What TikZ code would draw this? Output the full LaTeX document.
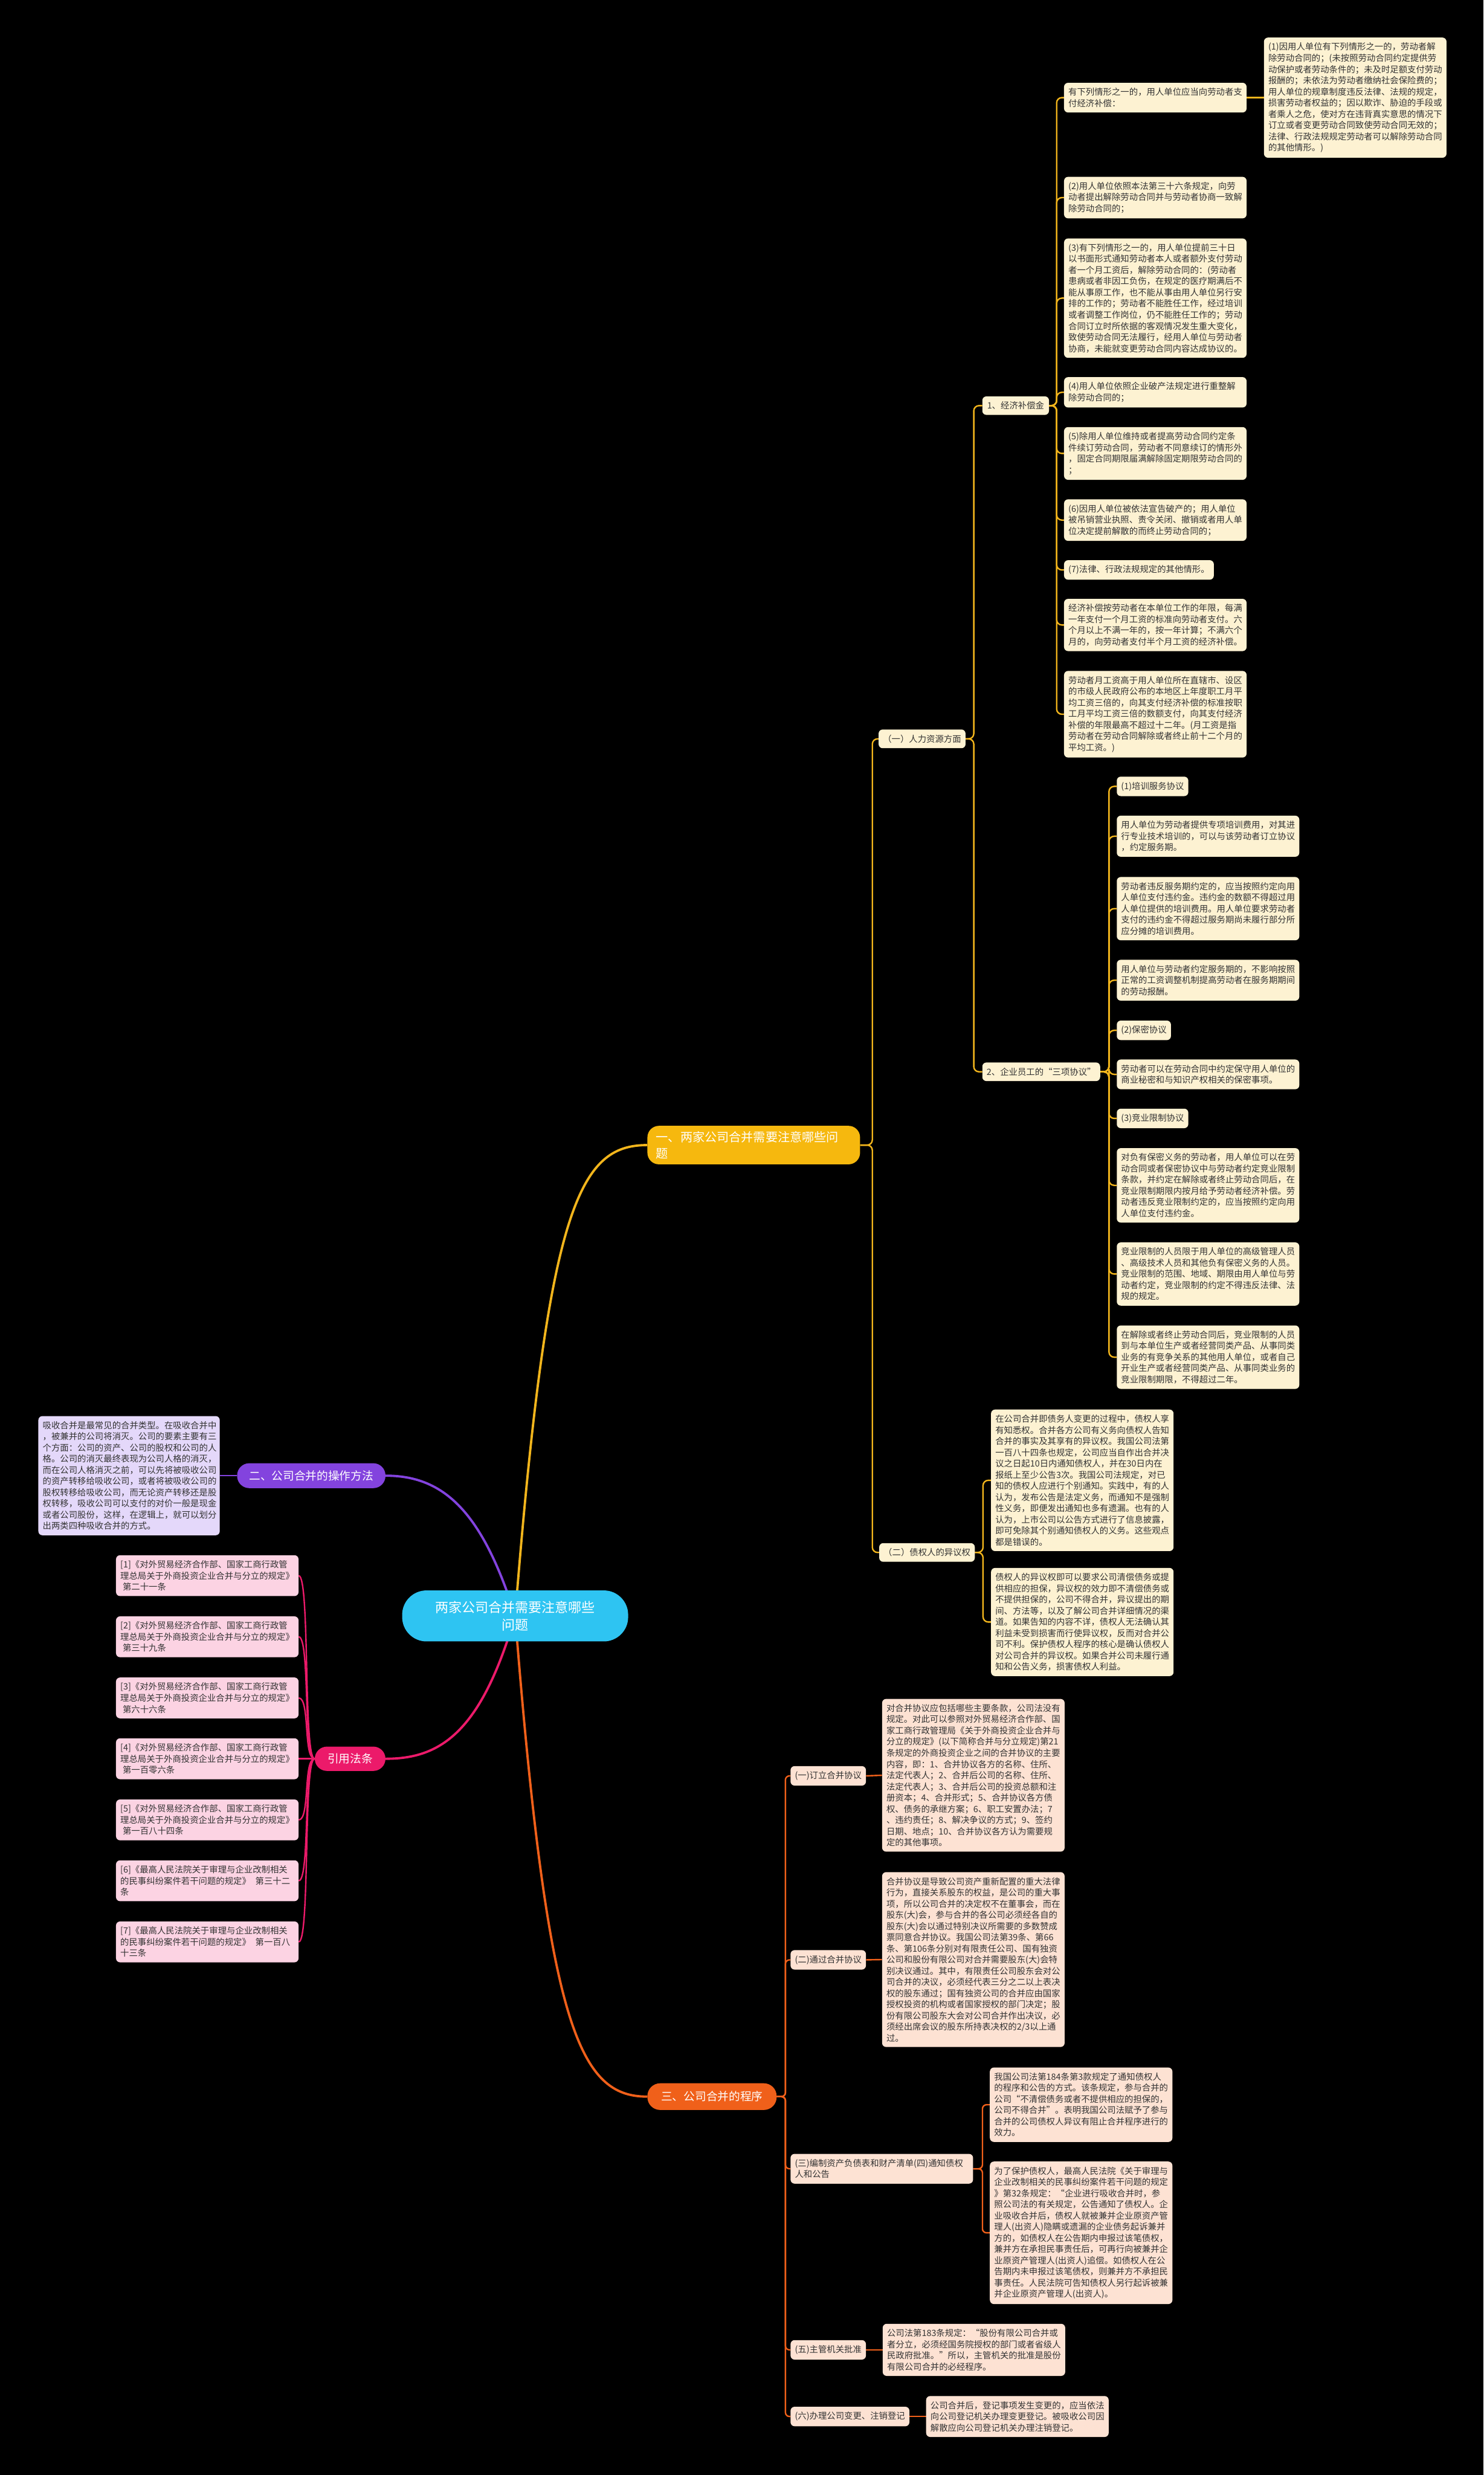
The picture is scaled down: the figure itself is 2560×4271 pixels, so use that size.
\documentclass[tikz,border=0pt]{standalone}
\usepackage{fontspec}
\newfontfamily\cjk{Noto Sans CJK SC}
\pgfdeclarelayer{bg}
\pgfdeclarelayer{lines}
\pgfsetlayers{bg,lines,main}
\definecolor{cream}{HTML}{FDF2D2}
\definecolor{ylw}{HTML}{F2B51C}
\definecolor{ylwnode}{HTML}{F6B80E}
\definecolor{peach}{HTML}{FDE2D3}
\definecolor{org}{HTML}{F0601A}
\definecolor{lav}{HTML}{E4D8FA}
\definecolor{pur}{HTML}{8343DE}
\definecolor{pinkf}{HTML}{FCD3E3}
\definecolor{mag}{HTML}{EC1A6A}
\definecolor{cyn}{HTML}{2EC4F2}
\definecolor{txt}{HTML}{333333}
\tikzset{
  base/.style={font=\cjk\fontsize{15pt}{19.3pt}\selectfont, text=txt, rounded corners=7pt,
    inner xsep=7.5pt, inner ysep=9pt, align=left, anchor=west},
  ybox/.style={base, fill=cream, text width=300pt},
  ylab/.style={base, fill=cream, align=center},
  obox/.style={base, fill=peach, text width=300pt},
  olab/.style={base, fill=peach, align=center},
  pbox/.style={base, fill=lav, text width=298pt},
  rbox/.style={base, fill=pinkf, text width=300pt},
  topic/.style={font=\cjk\fontsize{19.5pt}{26pt}\selectfont, text=white, anchor=west,
    inner xsep=12pt, inner ysep=6pt, align=center},
  ylink/.style={draw=ylw, line width=2.5pt, rounded corners=9pt},
  olink/.style={draw=org, line width=2.5pt, rounded corners=7pt},
  mlink/.style={draw=mag, line width=2.5pt},
  plink/.style={draw=pur, line width=2.5pt},
  main/.style={line width=4pt}
}
\begin{document}
\begin{tikzpicture}[x=1pt,y=-1pt]
\useasboundingbox (0,0) rectangle (2560,4271);
\begin{pgfonlayer}{bg}
\fill[black] (0,0) rectangle (2560,4271);
\end{pgfonlayer}

% ---------- centre ----------
\node[font=\cjk\fontsize{23pt}{30pt}\selectfont, text=white, fill=cyn, rounded corners=42pt,
  minimum width=390pt, minimum height=88pt, align=center] (C) at (889,2788.5)
  {两家公司合并需要注意哪些\\问题};

% ---------- level 1 ----------
\node[topic, fill=ylwnode, font=\cjk\fontsize{21pt}{28pt}\selectfont, rounded corners=20pt,
  text width=337pt, inner xsep=15pt, inner ysep=9.5pt, align=left] (N1) at (1117,1976)
  {一、两家公司合并需要注意哪些问\\题};
\node[topic, fill=pur, rounded corners=21pt, minimum width=256pt, minimum height=43pt] (N2) at (409,2546.5)
  {二、公司合并的操作方法};
\node[topic, fill=org, rounded corners=22pt, minimum width=223pt, minimum height=46pt] (N3) at (1117,3618)
  {三、公司合并的程序};
\node[topic, fill=mag, rounded corners=21pt, minimum width=122pt, minimum height=42pt] (N4) at (543,3035)
  {引用法条};

% ---------- yellow branch ----------
\node[ylab, minimum width=150pt] (Lhr) at (1516,1275) {（一）人力资源方面};
\node[ylab, minimum width=115pt] (Ljj) at (1695,700) {1、经济补偿金};
\node[ylab, minimum width=203pt] (Lsx) at (1695,1849.5) {2、企业员工的“三项协议”};
\node[ylab, minimum width=164pt] (Lzq) at (1517,2679) {（二）债权人的异议权};

\node[ybox] (ya) at (1836,168.5) {有下列情形之一的，用人单位应当向劳动者支\\付经济补偿：};
\node[ybox] (y1) at (2181,168.5) {(1)因用人单位有下列情形之一的，劳动者解\\除劳动合同的；(未按照劳动合同约定提供劳\\动保护或者劳动条件的；未及时足额支付劳动\\报酬的；未依法为劳动者缴纳社会保险费的；\\用人单位的规章制度违反法律、法规的规定，\\损害劳动者权益的；因以欺诈、胁迫的手段或\\者乘人之危，使对方在违背真实意思的情况下\\订立或者变更劳动合同致使劳动合同无效的；\\法律、行政法规规定劳动者可以解除劳动合同\\的其他情形。)};
\node[ybox] (y2) at (1836,341) {(2)用人单位依照本法第三十六条规定，向劳\\动者提出解除劳动合同并与劳动者协商一致解\\除劳动合同的；};
\node[ybox] (y3) at (1836,514.5) {(3)有下列情形之一的，用人单位提前三十日\\以书面形式通知劳动者本人或者额外支付劳动\\者一个月工资后，解除劳动合同的：(劳动者\\患病或者非因工负伤，在规定的医疗期满后不\\能从事原工作，也不能从事由用人单位另行安\\排的工作的；劳动者不能胜任工作，经过培训\\或者调整工作岗位，仍不能胜任工作的；劳动\\合同订立时所依据的客观情况发生重大变化，\\致使劳动合同无法履行，经用人单位与劳动者\\协商，未能就变更劳动合同内容达成协议的。};
\node[ybox] (y4) at (1836,677) {(4)用人单位依照企业破产法规定进行重整解\\除劳动合同的；};
\node[ybox] (y5) at (1836,782.5) {(5)除用人单位维持或者提高劳动合同约定条\\件续订劳动合同，劳动者不同意续订的情形外\\，固定合同期限届满解除固定期限劳动合同的\\；};
\node[ybox] (y6) at (1836,897.5) {(6)因用人单位被依法宣告破产的；用人单位\\被吊销营业执照、责令关闭、撤销或者用人单\\位决定提前解散的而终止劳动合同的；};
\node[base, fill=cream] (y7) at (1836,983.5) {(7)法律、行政法规规定的其他情形。};
\node[ybox] (y8) at (1836,1078.5) {经济补偿按劳动者在本单位工作的年限，每满\\一年支付一个月工资的标准向劳动者支付。六\\个月以上不满一年的，按一年计算；不满六个\\月的，向劳动者支付半个月工资的经济补偿。};
\node[ybox] (y9) at (1836,1232.5) {劳动者月工资高于用人单位所在直辖市、设区\\的市级人民政府公布的本地区上年度职工月平\\均工资三倍的，向其支付经济补偿的标准按职\\工月平均工资三倍的数额支付，向其支付经济\\补偿的年限最高不超过十二年。(月工资是指\\劳动者在劳动合同解除或者终止前十二个月的\\平均工资。)};

\node[base, fill=cream] (t0) at (1927,1357) {(1)培训服务协议};
\node[ybox] (t1) at (1927,1443) {用人单位为劳动者提供专项培训费用，对其进\\行专业技术培训的，可以与该劳动者订立协议\\，约定服务期。};
\node[ybox] (t2) at (1927,1568) {劳动者违反服务期约定的，应当按照约定向用\\人单位支付违约金。违约金的数额不得超过用\\人单位提供的培训费用。用人单位要求劳动者\\支付的违约金不得超过服务期尚未履行部分所\\应分摊的培训费用。};
\node[ybox] (t3) at (1927,1691.5) {用人单位与劳动者约定服务期的，不影响按照\\正常的工资调整机制提高劳动者在服务期期间\\的劳动报酬。};
\node[base, fill=cream] (t4) at (1927,1778) {(2)保密协议};
\node[ybox] (t5) at (1927,1854) {劳动者可以在劳动合同中约定保守用人单位的\\商业秘密和与知识产权相关的保密事项。};
\node[base, fill=cream] (t6) at (1927,1930) {(3)竞业限制协议};
\node[ybox] (t7) at (1927,2045.5) {对负有保密义务的劳动者，用人单位可以在劳\\动合同或者保密协议中与劳动者约定竞业限制\\条款，并约定在解除或者终止劳动合同后，在\\竞业限制期限内按月给予劳动者经济补偿。劳\\动者违反竞业限制约定的，应当按照约定向用\\人单位支付违约金。};
\node[ybox] (t8) at (1927,2198.5) {竞业限制的人员限于用人单位的高级管理人员\\、高级技术人员和其他负有保密义务的人员。\\竞业限制的范围、地域、期限由用人单位与劳\\动者约定，竞业限制的约定不得违反法律、法\\规的规定。};
\node[ybox] (t9) at (1927,2342) {在解除或者终止劳动合同后，竞业限制的人员\\到与本单位生产或者经营同类产品、从事同类\\业务的有竞争关系的其他用人单位，或者自己\\开业生产或者经营同类产品、从事同类业务的\\竞业限制期限，不得超过二年。};

\node[ybox] (c1) at (1710,2554.5) {在公司合并即债务人变更的过程中，债权人享\\有知悉权。合并各方公司有义务向债权人告知\\合并的事实及其享有的异议权。我国公司法第\\一百八十四条也规定，公司应当自作出合并决\\议之日起10日内通知债权人，并在30日内在\\报纸上至少公告3次。我国公司法规定，对已\\知的债权人应进行个别通知。实践中，有的人\\认为，发布公告是法定义务，而通知不是强制\\性义务，即便发出通知也多有遗漏。也有的人\\认为，上市公司以公告方式进行了信息披露，\\即可免除其个别通知债权人的义务。这些观点\\都是错误的。};
\node[ybox] (c2) at (1710,2799) {债权人的异议权即可以要求公司清偿债务或提\\供相应的担保，异议权的效力即不清偿债务或\\不提供担保的，公司不得合并，异议提出的期\\间、方法等，以及了解公司合并详细情况的渠\\道。如果告知的内容不详，债权人无法确认其\\利益未受到损害而行使异议权，反而对合并公\\司不利。保护债权人程序的核心是确认债权人\\对公司合并的异议权。如果合并公司未履行通\\知和公告义务，损害债权人利益。};

% ---------- purple branch ----------
\node[pbox] (pb) at (66,2546.5) {吸收合并是最常见的合并类型。在吸收合并中\\，被兼并的公司将消灭。公司的要素主要有三\\个方面：公司的资产、公司的股权和公司的人\\格。公司的消灭最终表现为公司人格的消灭，\\而在公司人格消灭之前，可以先将被吸收公司\\的资产转移给吸收公司，或者将被吸收公司的\\股权转移给吸收公司，而无论资产转移还是股\\权转移，吸收公司可以支付的对价一般是现金\\或者公司股份，这样，在逻辑上，就可以划分\\出两类四种吸收合并的方式。};

% ---------- references ----------
\node[rbox] (r1) at (200,2719) {[1]《对外贸易经济合作部、国家工商行政管\\理总局关于外商投资企业合并与分立的规定》\\\hspace*{4pt}第二十一条};
\node[rbox] (r2) at (200,2824.5) {[2]《对外贸易经济合作部、国家工商行政管\\理总局关于外商投资企业合并与分立的规定》\\\hspace*{4pt}第三十九条};
\node[rbox] (r3) at (200,2930) {[3]《对外贸易经济合作部、国家工商行政管\\理总局关于外商投资企业合并与分立的规定》\\\hspace*{4pt}第六十六条};
\node[rbox] (r4) at (200,3035) {[4]《对外贸易经济合作部、国家工商行政管\\理总局关于外商投资企业合并与分立的规定》\\\hspace*{4pt}第一百零六条};
\node[rbox] (r5) at (200,3140.5) {[5]《对外贸易经济合作部、国家工商行政管\\理总局关于外商投资企业合并与分立的规定》\\\hspace*{4pt}第一百八十四条};
\node[rbox] (r6) at (200,3245.5) {[6]《最高人民法院关于审理与企业改制相关\\的民事纠纷案件若干问题的规定》\hspace{8pt}第三十二\\条};
\node[rbox] (r7) at (200,3351) {[7]《最高人民法院关于审理与企业改制相关\\的民事纠纷案件若干问题的规定》\hspace{8pt}第一百八\\十三条};

% ---------- orange branch ----------
\node[olab] (ol1) at (1364,3064.5) {(一)订立合并协议};
\node[obox] (ob1) at (1522,3063.5) {对合并协议应包括哪些主要条款，公司法没有\\规定。对此可以参照对外贸易经济合作部、国\\家工商行政管理局《关于外商投资企业合并与\\分立的规定》(以下简称合并与分立规定)第21\\条规定的外商投资企业之间的合并协议的主要\\内容，即：1、合并协议各方的名称、住所、\\法定代表人；2、合并后公司的名称、住所、\\法定代表人；3、合并后公司的投资总额和注\\册资本；4、合并形式；5、合并协议各方债\\权、债务的承继方案；6、职工安置办法；7\\、违约责任；8、解决争议的方式；9、签约\\日期、地点；10、合并协议各方认为需要规\\定的其他事项。};
\node[olab] (ol2) at (1364,3382) {(二)通过合并协议};
\node[obox] (ob2) at (1522,3381.5) {合并协议是导致公司资产重新配置的重大法律\\行为，直接关系股东的权益，是公司的重大事\\项，所以公司合并的决定权不在董事会，而在\\股东(大)会，参与合并的各公司必须经各自的\\股东(大)会以通过特别决议所需要的多数赞成\\票同意合并协议。我国公司法第39条、第66\\条、第106条分别对有限责任公司、国有独资\\公司和股份有限公司对合并需要股东(大)会特\\别决议通过。其中，有限责任公司股东会对公\\司合并的决议，必须经代表三分之二以上表决\\权的股东通过；国有独资公司的合并应由国家\\授权投资的机构或者国家授权的部门决定；股\\份有限公司股东大会对公司合并作出决议，必\\须经出席会议的股东所持表决权的2/3以上通\\过。};
\node[obox] (ol3) at (1364,3742.5) {(三)编制资产负债表和财产清单(四)通知债权\\人和公告};
\node[obox] (ob3) at (1708,3632) {我国公司法第184条第3款规定了通知债权人\\的程序和公告的方式。该条规定，参与合并的\\公司“不清偿债务或者不提供相应的担保的，\\公司不得合并”。表明我国公司法赋予了参与\\合并的公司债权人异议有阻止合并程序进行的\\效力。};
\node[obox] (ob4) at (1708,3853) {为了保护债权人，最高人民法院《关于审理与\\企业改制相关的民事纠纷案件若干问题的规定\\》第32条规定：“企业进行吸收合并时，参\\照公司法的有关规定，公告通知了债权人。企\\业吸收合并后，债权人就被兼并企业原资产管\\理人(出资人)隐瞒或遗漏的企业债务起诉兼并\\方的，如债权人在公告期内申报过该笔债权，\\兼并方在承担民事责任后，可再行向被兼并企\\业原资产管理人(出资人)追偿。如债权人在公\\告期内未申报过该笔债权，则兼并方不承担民\\事责任。人民法院可告知债权人另行起诉被兼\\并企业原资产管理人(出资人)。};
\node[olab] (ol5) at (1364,4055) {(五)主管机关批准};
\node[obox] (ob5) at (1523,4055) {公司法第183条规定：“股份有限公司合并或\\者分立，必须经国务院授权的部门或者省级人\\民政府批准。”所以，主管机关的批准是股份\\有限公司合并的必经程序。};
\node[olab] (ol6) at (1364,4170) {(六)办理公司变更、注销登记};
\node[obox] (ob6) at (1598,4170) {公司合并后，登记事项发生变更的，应当依法\\向公司登记机关办理变更登记。被吸收公司因\\解散应向公司登记机关办理注销登记。};

% ---------- connectors ----------
\begin{pgfonlayer}{lines}
\draw[draw=ylw, main] (C.center) .. controls (945,2080) and (1000,1976) .. (N1.west);
\draw[draw=org, main] (C.center) .. controls (945,3500) and (1000,3618) .. (N3.west);
\draw[draw=pur, main] (C.center) .. controls (830,2600) and (760,2546.5) .. (N2.east);
\draw[draw=mag, main] (C.center) .. controls (830,2990) and (760,3035) .. (N4.east);

\draw[ylink] (N1.east) -- ++(21,0) |- (Lhr.west);
\draw[ylink] (N1.east) -- ++(21,0) |- (Lzq.west);
\draw[ylink] (Lhr.east) -- ++(14,0) |- (Ljj.west);
\draw[ylink] (Lhr.east) -- ++(14,0) |- (Lsx.west);
\foreach \n in {ya,y2,y3,y4,y5,y6,y7,y8,y9}
  \draw[ylink] (Ljj.east) -- ++(13,0) |- (\n.west);
\draw[ylink] (ya.east) -- (y1.west);
\foreach \n in {t0,t1,t2,t3,t4,t5,t6,t7,t8,t9}
  \draw[ylink] (Lsx.east) -- ++(15,0) |- (\n.west);
\draw[ylink] (Lzq.east) -- ++(14,0) |- (c1.west);
\draw[ylink] (Lzq.east) -- ++(14,0) |- (c2.west);

\foreach \n in {ol1,ol2,ol3,ol5,ol6}
  \draw[olink] (N3.east) -- ++(15,0) |- (\n.west);
\draw[olink] (ol1.east) -- (ob1.west);
\draw[olink] (ol2.east) -- (ob2.west);
\draw[olink] (ol3.east) -- ++(16,0) |- (ob3.west);
\draw[olink] (ol3.east) -- ++(16,0) |- (ob4.west);
\draw[olink] (ol5.east) -- (ob5.west);
\draw[olink] (ol6.east) -- (ob6.west);

\draw[plink] (pb.east) -- (N2.west);

\foreach \n in {r1,r2,r3,r4,r5,r6,r7}
  \draw[mlink] (\n.east) .. controls +(20,0) and +(-20,0) .. (N4.west);
\end{pgfonlayer}
\end{tikzpicture}
\end{document}
